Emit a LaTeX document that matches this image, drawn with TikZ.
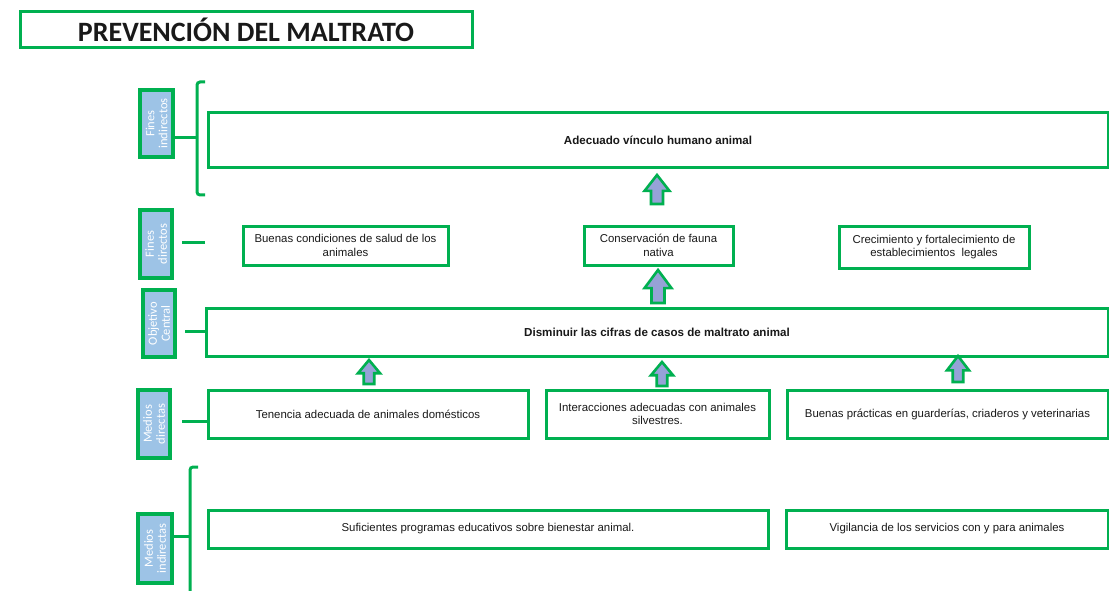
\documentclass[tikz,border=0pt]{standalone}
\usepackage{fontspec}
\setmainfont{Liberation Sans}
\newfontfamily\carlito{Carlito}
\definecolor{gr}{RGB}{0,176,80}
\definecolor{lblue}{RGB}{157,195,230}
\definecolor{lav}{RGB}{150,162,215}
\tikzset{
  mbox/.style={draw=gr, line width=3pt, fill=white, inner sep=2pt, align=center,
    font=\fontsize{11.4}{13.5}\selectfont, text=black!90},
  sidebox/.style={draw=gr, line width=3.8pt, fill=lblue, rotate=90, inner sep=1pt, align=center,
    font=\carlito\fontsize{12.5}{13}\selectfont, text=white},
  conn/.style={draw=gr, line width=3pt},
  blockarr/.style={draw=gr, line width=2.6pt, fill=lav, line join=miter},
  pics/uparr/.style 2 args={code={
    \draw[blockarr] (-0.24*#1,0) -- (-0.24*#1,-0.45*#2) -- (-0.5*#1,-0.45*#2) -- (0,-#2)
      -- (0.5*#1,-0.45*#2) -- (0.24*#1,-0.45*#2) -- (0.24*#1,0) -- cycle;}}
}
\begin{document}
\begin{tikzpicture}[x=1pt,y=-1pt]
\useasboundingbox (0,0) rectangle (1109,591);
\fill[white] (0,0) rectangle (1109,591);
% title
\node[mbox, minimum width=452, minimum height=36, font=\carlito\bfseries\fontsize{28}{30}\selectfont] (title) at (246,30) {PREVENCIÓN DEL MALTRATO};
% main boxes
\node[mbox, minimum width=900, minimum height=55, font=\bfseries\fontsize{11.6}{13.5}\selectfont] (adec) at (658,140.5) {Adecuado vínculo humano animal};
\node[mbox, minimum width=205, minimum height=39] (buenas) at (345.5,245.5) {Buenas condiciones de salud de los\\animales};
\node[mbox, minimum width=149, minimum height=39] (conserv) at (658.5,245.5) {Conservación de fauna\\nativa};
\node[mbox, minimum width=190, minimum height=42] (crec) at (934,247) {Crecimiento y fortalecimiento de\\establecimientos\ \ legales};
\node[mbox, minimum width=902, minimum height=48, font=\bfseries\fontsize{11.6}{13.5}\selectfont] (dismin) at (657,332) {Disminuir las cifras de casos de maltrato animal};
\node[mbox, minimum width=320, minimum height=48] (tenencia) at (368,414) {Tenencia adecuada de animales domésticos};
\node[mbox, minimum width=223, minimum height=48] (interac) at (657.5,414) {Interacciones adecuadas con animales\\silvestres.};
\node[mbox, minimum width=321, minimum height=48] (buenasp) at (947.5,414) {Buenas prácticas en guarderías, criaderos y veterinarias};
\node[mbox, minimum width=560, minimum height=38] (sufic) at (488,529) {Suficientes programas educativos sobre bienestar animal.};
\node[mbox, minimum width=322, minimum height=38] (vigil) at (947,529) {Vigilancia de los servicios con y para animales};
% side labels
\node[sidebox, minimum width=67, minimum height=33] (l1) at (156.5,123.5) {Fines\\indirectos};
\node[sidebox, minimum width=68, minimum height=32] (l2) at (156,244) {Fines\\directos};
\node[sidebox, minimum width=67, minimum height=32] (l3) at (159,323.5) {Objetivo\\Central};
\node[sidebox, minimum width=68, minimum height=32] (l4) at (154,424) {Medios\\directas};
\node[sidebox, minimum width=69, minimum height=34] (l5) at (155,548.5) {Medios\\indirectas};
% brackets and connectors
\coordinate (b1) at (197,138);
\draw[conn, rounded corners=3pt] (205,82) -- (197,82) -- (197,195) -- (205,195);
\draw[conn] (l1.south |- b1) -- (b1);
\coordinate (c2a) at (182,242);
\coordinate (c2b) at (205,242);
\draw[conn] (c2a) -- (c2b);
\coordinate (c3) at (185,331);
\draw[conn] (c3) -- (dismin.west |- c3);
\coordinate (c4) at (182,421);
\draw[conn] (c4) -- (tenencia.west |- c4);
\coordinate (b5) at (190,536);
\draw[conn, rounded corners=3pt] (198,467) -- (190,467) -- (190,595);
\draw[conn] (l5.south |- b5) -- (b5);
% block arrows
\pic at (657,204) {uparr={25}{29}};
\pic at (658,303) {uparr={27}{33}};
\pic at (369,384) {uparr={22}{24}};
\pic at (662,386) {uparr={22}{24}};
\pic at (958,382) {uparr={22}{26}};
\end{tikzpicture}
\end{document}
